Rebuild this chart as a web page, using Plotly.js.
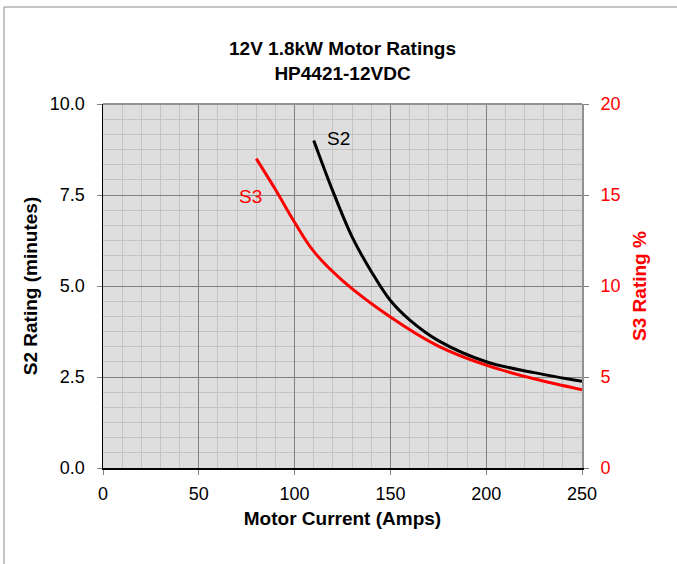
<!DOCTYPE html>
<html>
<head>
<meta charset="utf-8">
<script src="https://cdn.plot.ly/plotly-3.0.1.min.js"></script>
<style>
  html, body { margin: 0; padding: 0; background: #fff; }
  #graph { width: 677px; height: 564px; }
</style>
</head>
<body>
<div id="graph"></div>
<script>
// S2 rating (minutes), left axis
const s2Amps = [110, 120, 130, 140, 150, 160, 175, 200, 225, 250];
const s2Minutes = [9.0, 7.6, 6.35, 5.4, 4.6, 4.07, 3.5, 2.92, 2.62, 2.38];

// S3 rating (%), right axis
const s3Amps = [80, 90, 100, 110, 125, 150, 175, 200, 225, 250];
const s3Percent = [17.0, 15.3, 13.5, 11.9, 10.3, 8.3, 6.7, 5.65, 4.9, 4.3];

const xTicks = [0, 50, 100, 150, 200, 250];
const leftTicks = [0, 2.5, 5, 7.5, 10];
const rightTicks = [0, 5, 10, 15, 20];

const font = 'Liberation Sans, Arial, sans-serif';

const traces = [
  {
    x: s2Amps, y: s2Minutes, type: 'scatter', mode: 'lines',
    line: { color: 'black', width: 3, shape: 'spline' },
    name: 'S2', hoverinfo: 'skip'
  },
  {
    x: s3Amps, y: s3Percent, type: 'scatter', mode: 'lines', yaxis: 'y2',
    line: { color: '#ff0000', width: 3, shape: 'spline' },
    name: 'S3', hoverinfo: 'skip'
  }
];

const layout = {
  width: 677, height: 564,
  margin: { l: 103, r: 95, t: 104, b: 96 },
  paper_bgcolor: 'white',
  plot_bgcolor: '#dedede',
  showlegend: false,
  font: { family: font, size: 18, color: 'black' },
  title: {
    text: '<b>12V 1.8kW Motor Ratings<br>HP4421-12VDC</b>',
    font: { family: font, size: 19, color: 'black' },
    x: 0.5, xref: 'paper', yref: 'container', y: 1 - 55 / 564, yanchor: 'middle'
  },
  xaxis: {
    range: [0, 250], tickvals: xTicks, ticktext: xTicks.map(String),
    showgrid: true, gridcolor: '#808080', gridwidth: 1,
    minor: { dtick: 10, showgrid: true, gridcolor: '#c4c4c4', gridwidth: 1 },
    zeroline: false, showline: true, linecolor: 'black', linewidth: 1.5,
    ticks: 'outside', ticklen: 5, tickcolor: '#808080',
    tickfont: { size: 18 }, ticklabelstandoff: 4,
    title: { text: '<b>Motor Current (Amps)</b>', font: { size: 19 }, standoff: 8 }
  },
  yaxis: {
    range: [0, 10], tickvals: leftTicks, ticktext: leftTicks.map(v => v.toFixed(1)),
    showgrid: true, gridcolor: '#808080', gridwidth: 1,
    minor: { dtick: 2.5 / 6, showgrid: true, gridcolor: '#c4c4c4', gridwidth: 1 },
    zeroline: false, showline: true, linecolor: 'black', linewidth: 1.5,
    ticks: 'outside', ticklen: 5, tickcolor: '#808080',
    tickfont: { size: 18 }, ticklabelstandoff: 8,
    title: { text: '<b>S2 Rating (minutes)</b>', font: { size: 19 }, standoff: 7 }
  },
  yaxis2: {
    range: [0, 20], tickvals: rightTicks, ticktext: rightTicks.map(String),
    overlaying: 'y', side: 'right', showgrid: false, zeroline: false,
    showline: true, linecolor: '#909090', linewidth: 2,
    ticks: 'outside', ticklen: 5, tickcolor: '#808080',
    tickfont: { size: 18, color: '#ff0000' }, ticklabelstandoff: 8,
    title: { text: '<b>S3 Rating %</b>', font: { size: 19, color: '#ff0000' }, standoff: 13 }
  },
  shapes: [
    { type: 'line', xref: 'paper', yref: 'paper', x0: 0, x1: 1, y0: 1, y1: 1,
      line: { color: '#909090', width: 2 } },
    { type: 'rect', xref: 'paper', yref: 'paper', layer: 'below',
      x0: (4 - 103) / 479, x1: 2, y0: -1, y1: (468 - 7) / 364,
      line: { color: '#8c8c8c', width: 1 }, fillcolor: 'rgba(0,0,0,0)' }
  ],
  annotations: [
    { x: 116, y: 9.05, xref: 'x', yref: 'y', text: 'S2', showarrow: false,
      xanchor: 'left', yanchor: 'middle', font: { size: 19, color: 'black' } },
    { x: 84, y: 7.45, xref: 'x', yref: 'y', text: 'S3', showarrow: false,
      xanchor: 'right', yanchor: 'middle', font: { size: 19, color: '#ff0000' } }
  ]
};

Plotly.newPlot('graph', traces, layout, { staticPlot: true });
</script>
</body>
</html>
